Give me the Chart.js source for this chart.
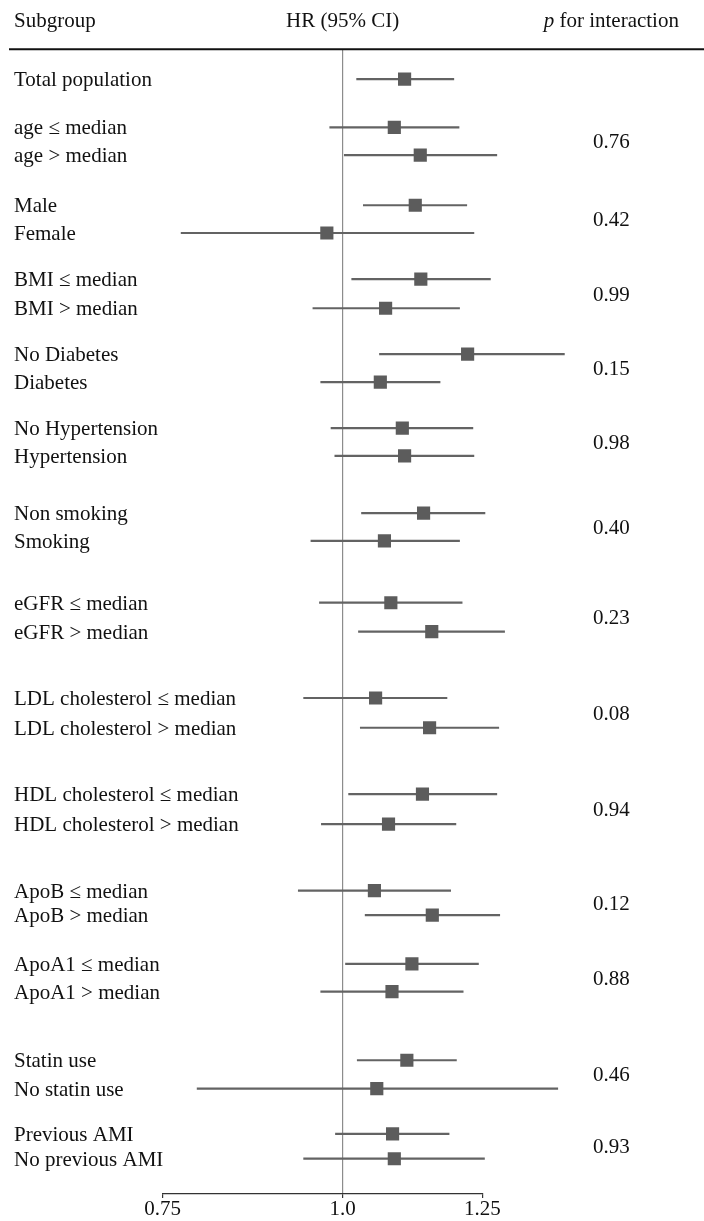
<!DOCTYPE html>
<html><head><meta charset="utf-8">
<script src="https://cdn.jsdelivr.net/npm/chart.js@4/dist/chart.umd.min.js"></script>
<style>html,body{margin:0;padding:0;background:#fff}#wrap{width:704px;height:1221px;position:relative}</style>
</head><body><div id="wrap"><canvas id="c"></canvas></div>
<script>
// ---- data ----
const subgroups = [
  'Total population',
  'age \u2264 median', 'age > median',
  'Male', 'Female',
  'BMI \u2264 median', 'BMI > median',
  'No Diabetes', 'Diabetes',
  'No Hypertension', 'Hypertension',
  'Non smoking', 'Smoking',
  'eGFR \u2264 median', 'eGFR > median',
  'LDL cholesterol \u2264 median', 'LDL cholesterol > median',
  'HDL cholesterol \u2264 median', 'HDL cholesterol > median',
  'ApoB \u2264 median', 'ApoB > median',
  'ApoA1 \u2264 median', 'ApoA1 > median',
  'Statin use', 'No statin use',
  'Previous AMI', 'No previous AMI'
];
const hr     = [1.104, 1.086, 1.132, 1.123, 0.975, 1.133, 1.071, 1.221, 1.062, 1.100, 1.104, 1.138, 1.069, 1.080, 1.153, 1.054, 1.149, 1.136, 1.076, 1.052, 1.154, 1.117, 1.082, 1.108, 1.056, 1.083, 1.086];
const ciLow  = [1.022, 0.979, 1.002, 1.033, 0.772, 1.014, 0.953, 1.060, 0.965, 0.981, 0.987, 1.030, 0.950, 0.963, 1.025, 0.939, 1.028, 1.009, 0.966, 0.931, 1.036, 1.004, 0.965, 1.023, 0.792, 0.988, 0.939];
const ciHigh = [1.195, 1.205, 1.280, 1.220, 1.234, 1.267, 1.206, 1.426, 1.169, 1.232, 1.234, 1.256, 1.206, 1.211, 1.296, 1.182, 1.284, 1.280, 1.199, 1.189, 1.286, 1.243, 1.213, 1.200, 1.411, 1.186, 1.255];
// row position of each subgroup (row units from the top of the plot)
const rowPos = [1.04, 2.73, 3.70, 5.45, 6.42, 8.03, 9.05, 10.65, 11.63, 13.24, 14.21, 16.21, 17.18, 19.34, 20.35, 22.67, 23.71, 26.03, 27.08, 29.40, 30.26, 31.96, 32.93, 35.33, 36.32, 37.90, 38.77];
const pValues = ['0.76', '0.42', '0.99', '0.15', '0.98', '0.40', '0.23', '0.08', '0.94', '0.12', '0.88', '0.46', '0.93'];
const pPairs = [[1,2],[3,4],[5,6],[7,8],[9,10],[11,12],[13,14],[15,16],[17,18],[19,20],[21,22],[23,24],[25,26]];
const tickVals = [0.75, 1.0, 1.25];
const tickLabels = ['0.75', '1.0', '1.25'];
const headerSubgroup = 'Subgroup';
const headerHR = 'HR (95% CI)';
const headerP = ['p', ' for interaction'];

// ---- styles ----
const FONT = '"Liberation Serif", "Times New Roman", serif';
const FS = 21;
const MARK = '#5c5c5c';
const LINE = '#636363';
const TEXT = '#111111';

const forestPlugin = {
  id: 'forest',
  beforeDatasetsDraw(chart) {
    const {ctx, scales: {x, y}} = chart;
    ctx.save();
    ctx.strokeStyle = LINE;
    ctx.lineWidth = 2.2;
    for (let i = 0; i < subgroups.length; i++) {
      const py = y.getPixelForValue(rowPos[i]);
      ctx.beginPath();
      ctx.moveTo(x.getPixelForValue(ciLow[i]), py);
      ctx.lineTo(x.getPixelForValue(ciHigh[i]), py);
      ctx.stroke();
    }
    ctx.restore();
  },
  afterDraw(chart) {
    const {ctx, chartArea, scales: {x, y}} = chart;
    ctx.save();
    // header rule
    ctx.strokeStyle = '#111';
    ctx.lineWidth = 2;
    ctx.beginPath();
    ctx.moveTo(9, chartArea.top);
    ctx.lineTo(chart.width, chartArea.top);
    ctx.stroke();

    ctx.fillStyle = TEXT;
    ctx.font = FS + 'px ' + FONT;
    ctx.textBaseline = 'alphabetic';
    const hy = chartArea.top - 22.6;
    ctx.textAlign = 'left';
    ctx.fillText(headerSubgroup, 14, hy);
    ctx.textAlign = 'center';
    ctx.fillText(headerHR, x.getPixelForValue(1), hy);

    const pCenter = chartArea.right + 129;
    ctx.font = 'italic ' + FS + 'px ' + FONT;
    const w1 = ctx.measureText(headerP[0]).width;
    ctx.font = FS + 'px ' + FONT;
    const w2 = ctx.measureText(headerP[1]).width;
    let sx = pCenter - (w1 + w2) / 2;
    ctx.textAlign = 'left';
    ctx.font = 'italic ' + FS + 'px ' + FONT;
    ctx.fillText(headerP[0], sx, hy);
    ctx.font = FS + 'px ' + FONT;
    ctx.fillText(headerP[1], sx + w1, hy);

    // subgroup labels
    for (let i = 0; i < subgroups.length; i++) {
      ctx.fillText(subgroups[i], 14, y.getPixelForValue(rowPos[i]) + 7);
    }
    // p values
    ctx.textAlign = 'center';
    for (let k = 0; k < pValues.length; k++) {
      const [a, b] = pPairs[k];
      const py = (y.getPixelForValue(rowPos[a]) + y.getPixelForValue(rowPos[b])) / 2;
      ctx.fillText(pValues[k], pCenter, py + 7);
    }
    ctx.restore();
  }
};

new Chart(document.getElementById('c'), {
  type: 'scatter',
  data: {
    datasets: [{
      data: hr.map((v, i) => ({x: v, y: rowPos[i]})),
      pointStyle: 'rect',
      pointRadius: 9.3,
      pointHoverRadius: 9.3,
      backgroundColor: MARK,
      borderColor: MARK,
      borderWidth: 0
    }]
  },
  options: {
    responsive: true,
    maintainAspectRatio: false,
    animation: false,
    events: [],
    layout: {padding: {left: 162.7, right: 221.7, top: 49.3, bottom: 0}},
    plugins: {legend: {display: false}, tooltip: {enabled: false}},
    scales: {
      x: {
        type: 'logarithmic',
        min: tickVals[0],
        max: tickVals[tickVals.length - 1],
        afterBuildTicks(scale) { scale.ticks = tickVals.map(v => ({value: v})); },
        ticks: {
          autoSkip: false,
          maxRotation: 0,
          padding: 0,
          color: TEXT,
          font: {family: FONT, size: FS, lineHeight: 1.1},
          callback(value) { const i = tickVals.indexOf(value); return i >= 0 ? tickLabels[i] : ''; }
        },
        grid: {
          drawOnChartArea: true,
          color: (c) => (c.tick && c.tick.value === 1) ? '#8c8c8c' : 'rgba(0,0,0,0)',
          lineWidth: 1.2,
          tickColor: '#333',
          tickLength: 4
        },
        border: {display: true, color: '#333', width: 1.2}
      },
      y: {
        type: 'linear',
        display: false,
        reverse: true,
        min: 0,
        max: 40
      }
    }
  },
  plugins: [forestPlugin]
});
</script>
</body></html>
